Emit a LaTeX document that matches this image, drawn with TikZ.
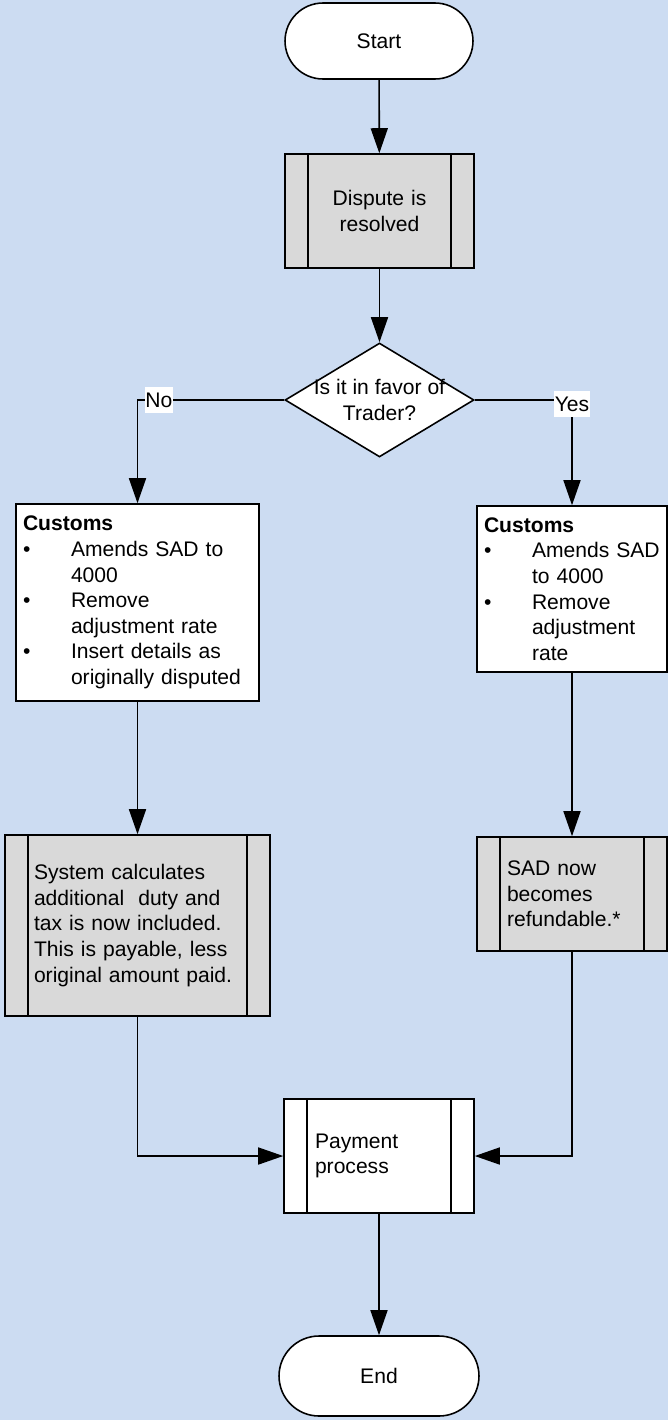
\documentclass[tikz,border=0pt]{standalone}
\usepackage{fontspec}
\setmainfont{Liberation Sans}
\usepackage{xcolor}
\usetikzlibrary{shapes.geometric, arrows.meta}

\definecolor{bgblue}{RGB}{204,220,242}
\definecolor{boxgrey}{RGB}{217,217,217}

\newcommand{\flowfont}{\fontsize{12}{14.6}\selectfont}
\newcommand{\bul}{\makebox[0.96cm][l]{\textbullet}}
\newcommand{\cont}{\hspace*{0.96cm}}

\begin{document}
\begin{tikzpicture}[x=0.02cm, y=-0.02cm,
	every node/.style={font=\flowfont},
	terminal/.style={draw, fill=white, line width=0.9pt, rounded corners=0.76cm, minimum width=3.76cm, minimum height=1.52cm},
	predef/.style={draw, line width=0.9pt, align=left, inner xsep=0.6cm, path picture={
		\draw[line width=0.9pt] ([xshift=0.46cm]path picture bounding box.north west) -- ([xshift=0.46cm]path picture bounding box.south west);
		\draw[line width=0.9pt] ([xshift=-0.46cm]path picture bounding box.north east) -- ([xshift=-0.46cm]path picture bounding box.south east);
	}},
	actionbox/.style={draw, fill=white, line width=0.9pt, align=left, inner xsep=0.14cm},
	decision/.style={diamond, draw, fill=white, line width=0.9pt, inner sep=0pt, minimum width=3.78cm, minimum height=2.28cm},
	flow/.style={line width=0.9pt, -{Triangle[length=0.5cm, width=0.34cm]}},
	branchlabel/.style={fill=white, inner xsep=0.5pt, inner ysep=0pt, minimum height=0.52cm}
]
	\fill[bgblue] (0,0) rectangle (668,1420);
	\useasboundingbox (0,0) rectangle (668,1420);

	\node[terminal] (start) at (379, 41) {Start};
	\node[predef, fill=boxgrey, align=center, text width=2.58cm, minimum height=2.28cm] (dispute) at (379.5, 211) {Dispute is\\resolved};
	\node[decision] (dec) at (379.5, 400) {};
	\node[align=center] (dectext) at (dec) {Is it in favor of\\Trader?};

	\node[actionbox, text width=4.58cm, minimum height=3.94cm] (customsL) at (137.5, 602.5) {\textbf{Customs}\\
		\bul Amends SAD to\\
		\cont 4000\\
		\bul Remove\\
		\cont adjustment rate\\
		\bul Insert details as\\
		\cont originally disputed};
	\node[actionbox, text width=3.52cm, minimum height=3.32cm] (customsR) at (572, 589) {\textbf{Customs}\\
		\bul Amends SAD\\
		\cont to 4000\\
		\bul Remove\\
		\cont adjustment\\
		\cont rate};

	\node[predef, fill=boxgrey, inner xsep=0.58cm, text width=4.14cm, minimum height=3.62cm] (system) at (137.5, 925.5) {System calculates\\additional\ \ duty and\\tax is now included.\\This is payable, less\\original amount paid.};
	\node[predef, fill=boxgrey, text width=2.6cm, minimum height=2.28cm] (sad) at (572, 894) {SAD now\\becomes\\refundable.*};

	\node[predef, fill=white, inner xsep=0.62cm, text width=2.56cm, minimum height=2.28cm] (payment) at (379, 1156) {Payment\\process};
	\node[terminal, rounded corners=0.8cm, minimum width=4cm, minimum height=1.6cm] (end) at (379, 1376) {End};

	% Connectors
	\draw[flow] (start) -- (dispute);
	\draw[flow] (dispute) -- (dec);
	\draw[flow] (dec.west) -| node[branchlabel, pos=0.427] {No} (customsL.north);
	\draw[flow] (dec.east) -| node[branchlabel, pos=0.5, yshift=-0.08cm] {Yes} (customsR.north);
	\draw[flow] (customsL) -- (system);
	\draw[flow] (customsR) -- (sad);
	\draw[flow] (system.south) |- (payment.west);
	\draw[flow] (sad.south) |- (payment.east);
	\draw[flow] (payment) -- (end);
\end{tikzpicture}
\end{document}
